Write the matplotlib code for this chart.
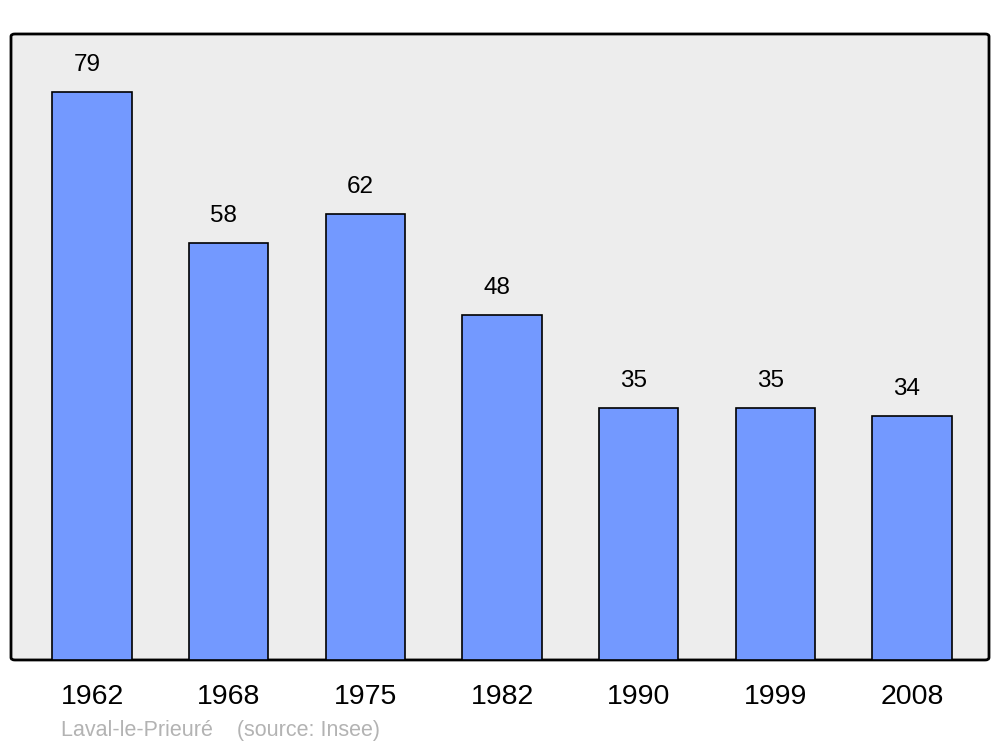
import matplotlib
matplotlib.use("Agg")
import matplotlib.pyplot as plt
from matplotlib.patches import FancyBboxPatch

years = ["1962", "1968", "1975", "1982", "1990", "1999", "2008"]
population = [79, 58, 62, 48, 35, 35, 34]
source_text = "Laval-le-Prieuré    (source: Insee)"

plt.rcParams['font.family'] = ['Liberation Sans', 'DejaVu Sans']

fig = plt.figure(figsize=(10, 7.47), dpi=100)
ax = fig.add_axes([0.011, 0.1165, 0.978, 0.838])
ax.set_facecolor('none')
for s in ax.spines.values():
    s.set_visible(False)

frame = FancyBboxPatch((0, 0), 1, 1, boxstyle="round,pad=0,rounding_size=0.004",
                       transform=ax.transAxes, facecolor='#ededed', edgecolor='black',
                       linewidth=2, zorder=0, clip_on=False)
ax.add_patch(frame)

x = list(range(len(years)))
ax.bar(x, population, width=0.58, color='#7399ff', edgecolor='black', linewidth=1.2, zorder=2)

for xi, v in zip(x, population):
    ax.annotate(str(v), (xi, v), xytext=(-5, 27), textcoords='offset pixels',
                ha='center', va='center', fontsize=17.5, color='black', zorder=3)

ax.set_xlim(-0.593, 6.563)
ax.set_ylim(0, 87.07)
ax.set_yticks([])
ax.set_xticks(x)
ax.set_xticklabels(years, fontsize=20.5)
ax.tick_params(axis='x', length=0, pad=17)

fig.text(0.061, 0.0225, source_text, fontsize=15.5, color='#b3b3b3', ha='left', va='center')

fig.savefig("out.png", dpi=100)
